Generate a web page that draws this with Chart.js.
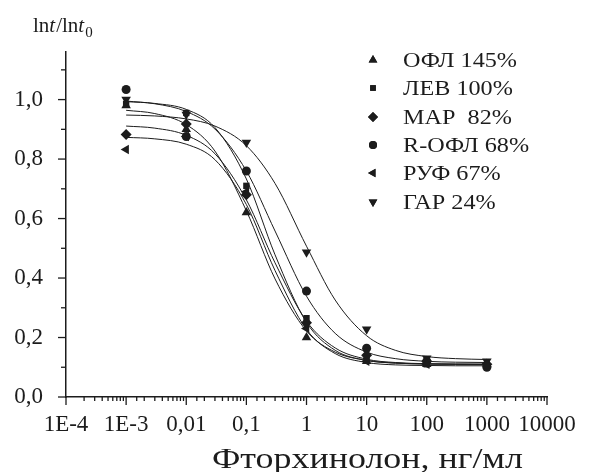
<!DOCTYPE html>
<html>
<head>
<meta charset="utf-8">
<script src="https://cdn.jsdelivr.net/npm/chart.js@4.4.1/dist/chart.umd.min.js"></script>
<style>
  html, body { margin: 0; padding: 0; background: #fff; }
  #wrap { width: 591px; height: 472px; position: relative; }
</style>
</head>
<body>
<div id="wrap"><canvas id="chart" width="591" height="472"></canvas></div>
<script>
// concentrations, ng/ml
const xValues = [0.001, 0.01, 0.1, 1, 10, 100, 1000];
const seriesNames = ['ОФЛ 145%', 'ЛЕВ 100%', 'МАР  82%', 'R-ОФЛ 68%', 'РУФ 67%', 'ГАР 24%'];

// measured points (ln t / ln t0)
const ptsOFL  = [0.980, 0.900, 0.620, 0.200, 0.120, 0.110, 0.110];
const ptsLEV  = [0.985, 0.955, 0.710, 0.265, 0.130, 0.110, 0.105];
const ptsMAR  = [0.883, 0.918, 0.680, 0.250, 0.140, 0.120, 0.110];
const ptsROFL = [1.034, 0.876, 0.760, 0.356, 0.164, 0.120, 0.100];
const ptsRUF  = [0.832, 0.876, 0.690, 0.230, 0.120, 0.110, 0.110];
const ptsGAR  = [1.000, 0.950, 0.856, 0.487, 0.228, 0.130, 0.120];

// fitted curves
const curveX = [0.001, 0.003, 0.01, 0.03, 0.1, 0.3, 1, 3, 10, 30, 100, 300, 1000];
const fitOFL  = [0.964, 0.953, 0.916, 0.827, 0.626, 0.397, 0.222, 0.151, 0.123, 0.114, 0.111, 0.110, 0.110];
const fitLEV  = [0.993, 0.987, 0.967, 0.906, 0.733, 0.478, 0.251, 0.157, 0.123, 0.114, 0.111, 0.110, 0.110];
const fitMAR  = [0.911, 0.904, 0.880, 0.818, 0.663, 0.451, 0.255, 0.165, 0.127, 0.116, 0.112, 0.111, 0.110];
const fitROFL = [0.995, 0.986, 0.960, 0.901, 0.760, 0.558, 0.339, 0.214, 0.151, 0.129, 0.120, 0.117, 0.116];
const fitRUF  = [0.873, 0.868, 0.850, 0.798, 0.647, 0.425, 0.227, 0.146, 0.116, 0.108, 0.106, 0.105, 0.105];
const fitGAR  = [0.948, 0.945, 0.935, 0.911, 0.845, 0.718, 0.507, 0.326, 0.206, 0.157, 0.136, 0.129, 0.126];

const xTickLabels = ['1E-4', '1E-3', '0,01', '0,1', '1', '10', '100', '1000', '10000'];

const points = [ptsOFL, ptsLEV, ptsMAR, ptsROFL, ptsRUF, ptsGAR];
const fits = [fitOFL, fitLEV, fitMAR, fitROFL, fitRUF, fitGAR];
const styles = [
  { pointStyle: 'triangle', rotation: 0, radius: 5.5 },
  { pointStyle: 'rect', rotation: 0, radius: 4.5 },
  { pointStyle: 'rectRot', rotation: 0, radius: 5.5 },
  { pointStyle: 'circle', rotation: 0, radius: 4.5 },
  { pointStyle: 'triangle', rotation: -90, radius: 5.5 },
  { pointStyle: 'triangle', rotation: 180, radius: 5.5 }
];

const ink = '#1c1c1c';
const serif = "'Liberation Serif', 'Times New Roman', serif";

const datasets = [];
fits.forEach((f, i) => {
  datasets.push({
    type: 'line',
    label: 'fit' + i,
    data: curveX.map((x, k) => ({ x: x, y: f[k] })),
    borderColor: ink,
    borderWidth: 1,
    pointRadius: 0,
    cubicInterpolationMode: 'monotone',
    fill: false,
    order: 2
  });
});
points.forEach((p, i) => {
  datasets.push({
    type: 'scatter',
    label: seriesNames[i],
    data: xValues.map((x, k) => ({ x: x, y: p[k] })),
    backgroundColor: ink,
    borderColor: ink,
    borderWidth: 0,
    pointStyle: styles[i].pointStyle,
    rotation: styles[i].rotation,
    pointRadius: styles[i].radius,
    isLegend: true,
    order: 1
  });
});

// text stretched horizontally a bit, the original typeface is wider
function wideText(ctx, text, x, y, sx) {
  ctx.save();
  ctx.translate(x, y);
  ctx.scale(sx, 1);
  ctx.fillText(text, 0, 0);
  ctx.restore();
}

const extras = {
  id: 'extras',
  afterDraw(chart) {
    const ctx = chart.ctx;
    const xs = chart.scales.x, ys = chart.scales.y;
    ctx.save();
    ctx.strokeStyle = ink;
    ctx.lineWidth = 1.3;
    // x ticks (major longer)
    xs.ticks.forEach(t => {
      const px = xs.getPixelForValue(t.value);
      const major = Math.abs(Math.log10(t.value) - Math.round(Math.log10(t.value))) < 1e-6;
      ctx.beginPath();
      ctx.moveTo(px, xs.top);
      ctx.lineTo(px, xs.top + (major ? 8 : 4));
      ctx.stroke();
    });
    // y ticks
    ys.ticks.forEach(t => {
      const py = ys.getPixelForValue(t.value);
      const major = Math.round(t.value * 10) % 2 === 0;
      ctx.beginPath();
      ctx.moveTo(ys.right, py);
      ctx.lineTo(ys.right - (major ? 8 : 5), py);
      ctx.stroke();
    });

    ctx.fillStyle = ink;
    // legend
    ctx.font = '22px ' + serif;
    ctx.textBaseline = 'middle';
    ctx.textAlign = 'left';
    const rowY = [60, 88, 117, 145, 173, 202];
    chart.data.datasets.filter(d => d.isLegend).forEach((d, i) => {
      Chart.helpers.drawPoint(ctx, {
        pointStyle: d.pointStyle, rotation: d.rotation,
        radius: d.pointRadius - 0.5, borderWidth: 0
      }, 373, rowY[i]);
      ctx.fill();
      wideText(ctx, d.label, 403, rowY[i] + 1, 1.1);
    });

    // y title: ln t / ln t0
    ctx.textBaseline = 'alphabetic';
    let x = 33;
    const by = 32;
    const parts = [
      ['ln', '21px ' + serif, 0],
      ['t', 'italic 21px ' + serif, 0],
      ['/ln', '21px ' + serif, 0],
      ['t', 'italic 21px ' + serif, 0],
      ['0', '15px ' + serif, 5]
    ];
    parts.forEach(p => {
      ctx.font = p[1];
      ctx.fillText(p[0], x, by + p[2]);
      x += ctx.measureText(p[0]).width + (p[0] === 't' ? 1 : 0);
    });

    // x title
    ctx.font = '30px ' + serif;
    ctx.textAlign = 'left';
    const title = 'Фторхинолон, нг/мл';
    const sx = 311 / ctx.measureText(title).width;
    wideText(ctx, title, 212, 468, sx);
    ctx.restore();
  }
};

new Chart(document.getElementById('chart'), {
  data: { datasets: datasets },
  options: {
    responsive: false,
    animation: false,
    layout: { padding: { left: 0, right: 44, top: 52, bottom: 0 } },
    plugins: {
      legend: { display: false },
      tooltip: { enabled: false }
    },
    scales: {
      x: {
        type: 'logarithmic',
        min: 0.0001,
        max: 10000,
        afterFit: s => { s.height = 75; },
        border: { display: true, color: ink, width: 1.5 },
        grid: { drawOnChartArea: false, drawTicks: true, tickLength: 8, tickColor: 'rgba(0,0,0,0)' },
        ticks: {
          autoSkip: false,
          maxRotation: 0,
          padding: 6,
          color: ink,
          font: { family: serif, size: 23 },
          callback: function (v) {
            const e = Math.log10(v);
            if (Math.abs(e - Math.round(e)) < 1e-6) return xTickLabels[Math.round(e) + 4];
            return '';
          }
        }
      },
      y: {
        type: 'linear',
        min: 0,
        max: 1.16,
        afterFit: s => { s.width = 66; },
        border: { display: true, color: ink, width: 1.5 },
        grid: { drawOnChartArea: false, drawTicks: true, tickLength: 8, tickColor: 'rgba(0,0,0,0)' },
        ticks: {
          stepSize: 0.1,
          includeBounds: false,
          autoSkip: false,
          padding: 15,
          color: ink,
          font: { family: serif, size: 23 },
          callback: v => Math.round(v * 10) % 2 === 0 ? v.toFixed(1).replace('.', ',') : ''
        }
      }
    }
  },
  plugins: [extras]
});
</script>
</body>
</html>
